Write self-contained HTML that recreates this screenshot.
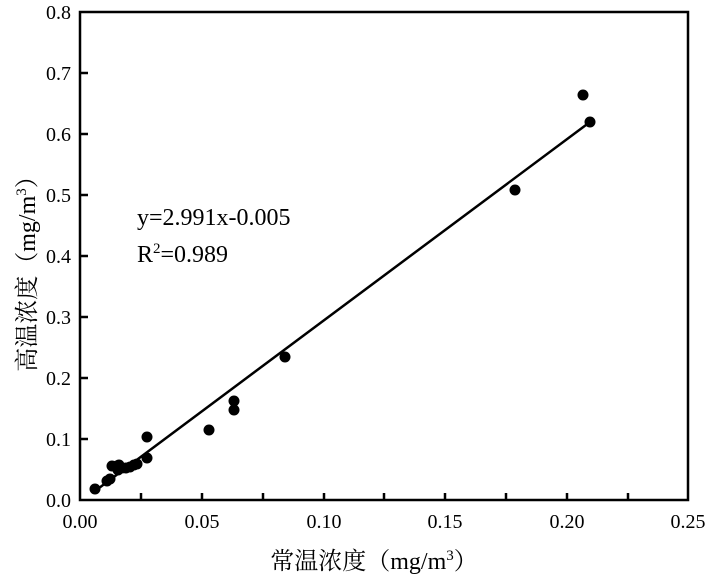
<!DOCTYPE html>
<html><head><meta charset="utf-8"><style>body{margin:0;background:#fff}</style></head><body>
<svg width="715" height="579" xmlns="http://www.w3.org/2000/svg" font-family="Liberation Serif, 'Noto Serif CJK SC', serif" font-size="20">
<rect x="80" y="12" width="608" height="488" fill="none" stroke="#000" stroke-width="2.5"/>
<g stroke="#000" stroke-width="2.5">
<line x1="80" y1="439" x2="88" y2="439"/><line x1="80" y1="378" x2="88" y2="378"/><line x1="80" y1="317" x2="88" y2="317"/><line x1="80" y1="256" x2="88" y2="256"/><line x1="80" y1="195" x2="88" y2="195"/><line x1="80" y1="134" x2="88" y2="134"/><line x1="80" y1="73" x2="88" y2="73"/>
<line x1="141" y1="500" x2="141" y2="493"/><line x1="202" y1="500" x2="202" y2="493"/><line x1="263" y1="500" x2="263" y2="493"/><line x1="324" y1="500" x2="324" y2="493"/><line x1="384" y1="500" x2="384" y2="493"/><line x1="445" y1="500" x2="445" y2="493"/><line x1="506" y1="500" x2="506" y2="493"/><line x1="567" y1="500" x2="567" y2="493"/><line x1="628" y1="500" x2="628" y2="493"/>
</g>
<g text-anchor="end">
<text x="71" y="507">0.0</text><text x="71" y="446">0.1</text><text x="71" y="385">0.2</text><text x="71" y="324">0.3</text><text x="71" y="263">0.4</text><text x="71" y="202">0.5</text><text x="71" y="141">0.6</text><text x="71" y="80">0.7</text><text x="71" y="19">0.8</text>
</g>
<g text-anchor="middle">
<text x="80" y="528">0.00</text><text x="202" y="528">0.05</text><text x="324" y="528">0.10</text><text x="445" y="528">0.15</text><text x="567" y="528">0.20</text><text x="688" y="528">0.25</text>
</g>
<text x="374" y="569" text-anchor="middle" font-size="24">常温浓度（mg/m<tspan font-size="15" dy="-9">3</tspan><tspan dy="9">）</tspan></text>
<text transform="translate(35,268) rotate(-90)" text-anchor="middle" font-size="24">高温浓度（mg/m<tspan font-size="15" dy="-9">3</tspan><tspan dy="9">）</tspan></text>
<text x="137" y="225" font-size="24">y=2.991x-0.005</text>
<text x="137" y="262" font-size="24">R<tspan font-size="15" dy="-9">2</tspan><tspan dy="9">=0.989</tspan></text>
<line x1="95" y1="491" x2="590" y2="122" stroke="#000" stroke-width="2.5"/>
<g fill="#000">
<circle cx="95" cy="489" r="5.5"/><circle cx="107" cy="481" r="5.5"/><circle cx="110" cy="479" r="5.5"/><circle cx="112" cy="466" r="5.5"/><circle cx="117" cy="466" r="5.5"/><circle cx="119" cy="465" r="5.5"/><circle cx="118" cy="470" r="5.5"/><circle cx="122" cy="468" r="5.5"/><circle cx="126" cy="468" r="5.5"/><circle cx="130" cy="467" r="5.5"/><circle cx="134" cy="465" r="5.5"/><circle cx="137" cy="464" r="5.5"/><circle cx="147" cy="437" r="5.5"/><circle cx="147" cy="458" r="5.5"/><circle cx="209" cy="430" r="5.5"/><circle cx="234" cy="410" r="5.5"/><circle cx="234" cy="401" r="5.5"/><circle cx="285" cy="357" r="5.5"/><circle cx="515" cy="190" r="5.5"/><circle cx="583" cy="95" r="5.5"/><circle cx="590" cy="122" r="5.5"/>
</g>
</svg>
</body></html>
